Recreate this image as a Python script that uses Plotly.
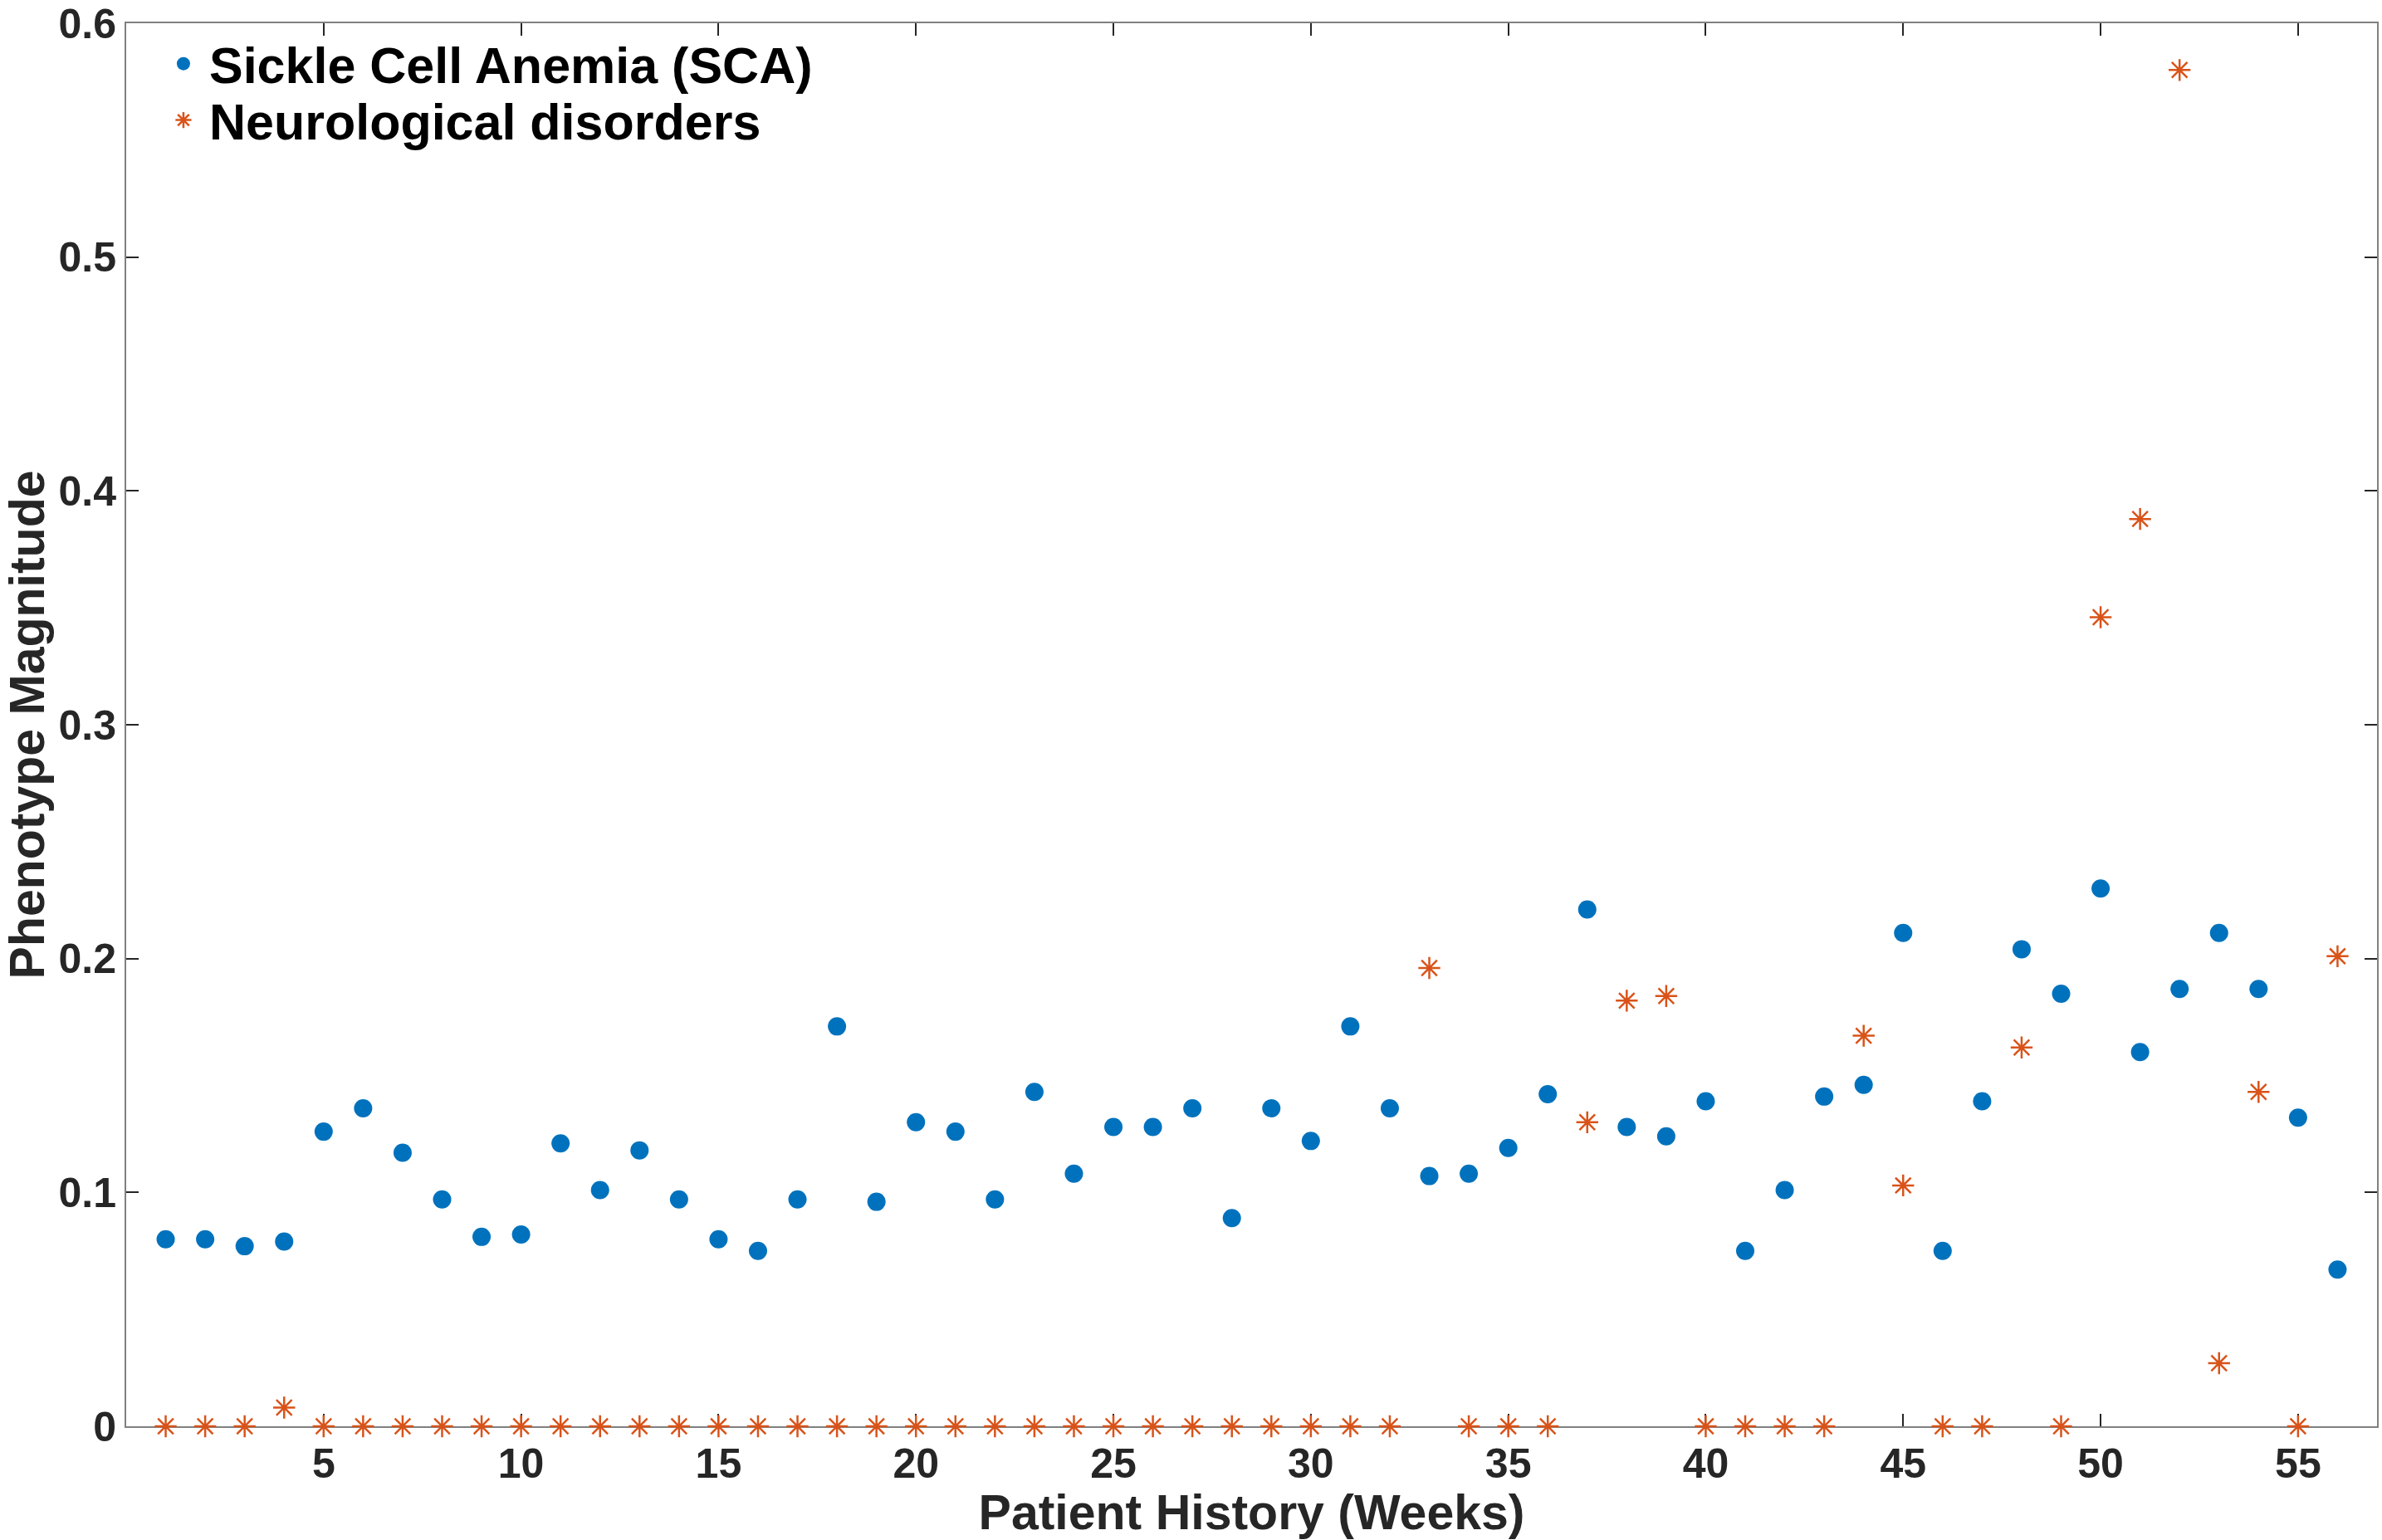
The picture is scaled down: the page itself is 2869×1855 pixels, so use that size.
import plotly.graph_objects as go

weeks = list(range(1, 57))
sca = [0.080, 0.080, 0.077, 0.079, 0.126, 0.136, 0.117, 0.097, 0.081, 0.082,
       0.121, 0.101, 0.118, 0.097, 0.080, 0.075, 0.097, 0.171, 0.096, 0.130,
       0.126, 0.097, 0.143, 0.108, 0.128, 0.128, 0.136, 0.089, 0.136, 0.122,
       0.171, 0.136, 0.107, 0.108, 0.119, 0.142, 0.221, 0.128, 0.124, 0.139,
       0.075, 0.101, 0.141, 0.146, 0.211, 0.075, 0.139, 0.204, 0.185, 0.230,
       0.160, 0.187, 0.211, 0.187, 0.132, 0.067]
neuro = [0.0, 0.0, 0.0, 0.008, 0.0, 0.0, 0.0, 0.0, 0.0, 0.0,
         0.0, 0.0, 0.0, 0.0, 0.0, 0.0, 0.0, 0.0, 0.0, 0.0,
         0.0, 0.0, 0.0, 0.0, 0.0, 0.0, 0.0, 0.0, 0.0, 0.0,
         0.0, 0.0, 0.196, 0.0, 0.0, 0.0, 0.130, 0.182, 0.184, 0.0,
         0.0, 0.0, 0.0, 0.167, 0.103, 0.0, 0.0, 0.162, 0.0, 0.346,
         0.388, 0.580, 0.027, 0.143, 0.0, 0.201]

x_ticks = [5, 10, 15, 20, 25, 30, 35, 40, 45, 50, 55]
y_ticks = [0, 0.1, 0.2, 0.3, 0.4, 0.5, 0.6]
y_ticktext = ["0", "0.1", "0.2", "0.3", "0.4", "0.5", "0.6"]

FONT = "Liberation Sans, Arial, sans-serif"

fig = go.Figure()
fig.add_trace(go.Scatter(
    x=weeks, y=sca, mode="markers", name="Sickle Cell Anemia (SCA)",
    marker=dict(symbol="circle", size=22, color="#0072BD", line=dict(width=0)),
    cliponaxis=False, legend="legend"))
fig.add_trace(go.Scatter(
    x=weeks, y=neuro, mode="markers", name="Neurological disorders",
    marker=dict(symbol="asterisk-open", size=22, color="#D95319",
                line=dict(width=2.5, color="#D95319")),
    cliponaxis=False, legend="legend2"))

axis_common = dict(
    showgrid=False, zeroline=False, showline=True, linecolor="#808080",
    linewidth=2, mirror="ticks", ticks="inside", ticklen=15, tickwidth=1.5,
    tickcolor="#262626", layer="below traces", ticklabeloverflow="allow",
    tickfont=dict(family=FONT, size=50, color="#262626", weight="bold"),
)

legend_common = dict(
    xanchor="left", yanchor="middle",
    bgcolor="rgba(0,0,0,0)", borderwidth=0, itemwidth=52,
    font=dict(family=FONT, size=61, color="black", weight="bold"),
)

fig.update_layout(
    width=2869, height=1855,
    margin=dict(l=152, r=6, t=28, b=137, autoexpand=False),
    paper_bgcolor="white", plot_bgcolor="white",
    font=dict(family=FONT, color="#262626"),
    xaxis=dict(
        range=[0, 57], tickvals=x_ticks, **axis_common,
        title=dict(text="Patient History (Weeks)", standoff=2,
                   font=dict(family=FONT, size=59, color="#262626", weight="bold")),
    ),
    yaxis=dict(
        range=[0, 0.6000001], tickvals=y_ticks, ticktext=y_ticktext, **axis_common,
        title=dict(text="Phenotype Magnitude", standoff=12,
                   font=dict(family=FONT, size=59, color="#262626", weight="bold")),
    ),
    legend=dict(x=0.014, y=0.971, **legend_common),
    legend2=dict(x=0.014, y=0.9308, **legend_common),
    showlegend=True,
)

fig.write_html("out.html")
